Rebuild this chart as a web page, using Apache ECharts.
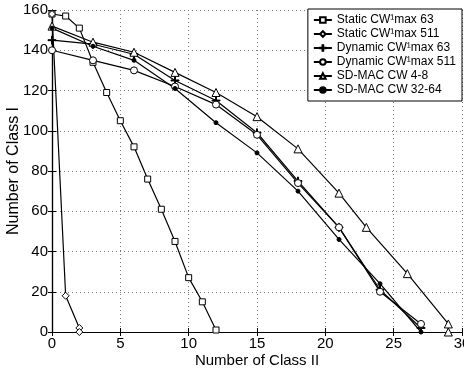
<!DOCTYPE html>
<html>
<head>
<meta charset="utf-8">
<script src="https://cdn.jsdelivr.net/npm/echarts@6/dist/echarts.min.js"></script>
<style>
  html, body { margin: 0; padding: 0; background: #fff; }
  #chart { width: 464px; height: 370px; }
</style>
</head>
<body>
<div id="chart"></div>
<script>
  // values
  const legendNames = ['Static CW¹max 63', 'Static CW¹max 511', 'Dynamic CW¹max 63',
    'Dynamic CW¹max 511', 'SD-MAC CW 4-8', 'SD-MAC CW 32-64']

  const static63X = [0, 1, 2, 3, 4, 5, 6, 7, 8, 9, 10, 11, 12]
  const static63Y = [158, 157, 151, 134, 119, 105, 92, 76, 61, 45, 27, 15, 1]

  const static511X = [0, 1, 2, 2]
  const static511Y = [158, 18, 2, 0]

  const dynamic63X = [0, 3, 6, 9, 12, 15, 18, 21, 24, 27]
  const dynamic63Y = [145, 143, 138, 125, 115, 99, 75, 52, 21, 2]

  const dynamic511X = [0, 3, 6, 9, 12, 15, 18, 21, 24, 27]
  const dynamic511Y = [140, 135, 130, 122, 113, 98, 74, 52, 20, 4]

  const sd48X = [0, 3, 6, 9, 12, 15, 18, 21, 23, 26, 29, 29]
  const sd48Y = [152, 144, 139, 129, 119, 107, 91, 69, 52, 29, 4, 0]

  const sd3264X = [0, 3, 6, 9, 12, 15, 18, 21, 24, 27]
  const sd3264Y = [151, 142, 135, 121, 104, 89, 70, 46, 24, 0]

  const font = 'Liberation Sans'
  const plusPath = 'path://M-0.12,-1H0.12V-0.12H1V0.12H0.12V1H-0.12V0.12H-1V-0.12H-0.12Z'

  const zip = (xs, ys) => xs.map((x, i) => [x, ys[i]])

  function makeSeries(name, xs, ys, symbol, size, fill) {
    return {
      name: name,
      type: 'line',
      data: zip(xs, ys),
      symbol: symbol,
      symbolSize: size,
      showAllSymbol: true,
      lineStyle: { color: '#000', width: 1.2 },
      itemStyle: { color: fill, borderColor: '#000', borderWidth: 1 },
      animation: false
    }
  }

  const chart = echarts.init(document.getElementById('chart'))

  const baseX = {
    type: 'value', min: 0, max: 30, interval: 5
  }
  const baseY = {
    type: 'value', min: 0, max: 160, interval: 20
  }

  chart.setOption({
    backgroundColor: '#fff',
    grid: { left: 52, right: 2, top: 10, bottom: 38, containLabel: false, outerBoundsMode: 'none' },
    legend: {
      orient: 'vertical',
      right: 2,
      top: 9,
      data: legendNames,
      itemWidth: 18,
      itemHeight: 7,
      itemGap: 2,
      padding: [5, 6, 5, 5],
      backgroundColor: '#fff',
      borderColor: '#000',
      borderWidth: 1,
      textStyle: { fontFamily: font, fontSize: 12, color: '#000', lineHeight: 12 }
    },
    xAxis: [
      Object.assign({}, baseX, {
        position: 'bottom',
        name: 'Number of Class II',
        nameLocation: 'middle',
        nameGap: 21,
        nameMoveOverlap: false,
        nameTextStyle: { fontFamily: font, fontSize: 15, color: '#000' },
        axisLine: { show: true, lineStyle: { color: '#000', width: 1.2 } },
        axisTick: { show: true, inside: true, length: 4, lineStyle: { color: '#000' } },
        axisLabel: { fontFamily: font, fontSize: 15, color: '#000', margin: 4 },
        splitLine: { show: true, lineStyle: { color: '#777', type: [1, 3], width: 1 } }
      }),
      Object.assign({}, baseX, {
        position: 'top',
        axisLine: { show: true, lineStyle: { color: '#000', width: 1.2 } },
        axisTick: { show: true, inside: true, length: 4, lineStyle: { color: '#000' } },
        axisLabel: { show: false },
        splitLine: { show: false }
      })
    ],
    yAxis: [
      Object.assign({}, baseY, {
        position: 'left',
        name: 'Number of Class I',
        nameLocation: 'middle',
        nameGap: 30,
        nameMoveOverlap: false,
        nameTextStyle: { fontFamily: font, fontSize: 16, color: '#000' },
        axisLine: { show: true, lineStyle: { color: '#000', width: 1.2 } },
        axisTick: { show: true, inside: true, length: 4, lineStyle: { color: '#000' } },
        axisLabel: { fontFamily: font, fontSize: 15, color: '#000', margin: 4 },
        splitLine: { show: true, lineStyle: { color: '#777', type: [1, 3], width: 1 } }
      }),
      Object.assign({}, baseY, {
        position: 'right',
        axisLine: { show: true, lineStyle: { color: '#000', width: 1.2 } },
        axisTick: { show: true, inside: true, length: 4, lineStyle: { color: '#000' } },
        axisLabel: { show: false },
        splitLine: { show: false }
      })
    ],
    series: [
      makeSeries(legendNames[0], static63X, static63Y, 'rect', 6, '#fff'),
      makeSeries(legendNames[1], static511X, static511Y, 'diamond', 7, '#fff'),
      makeSeries(legendNames[2], dynamic63X, dynamic63Y, plusPath, 8, '#000'),
      makeSeries(legendNames[3], dynamic511X, dynamic511Y, 'circle', 7, '#fff'),
      makeSeries(legendNames[4], sd48X, sd48Y, 'triangle', 8, '#fff'),
      makeSeries(legendNames[5], sd3264X, sd3264Y, 'circle', 4, '#000')
    ]
  })
</script>
</body>
</html>
